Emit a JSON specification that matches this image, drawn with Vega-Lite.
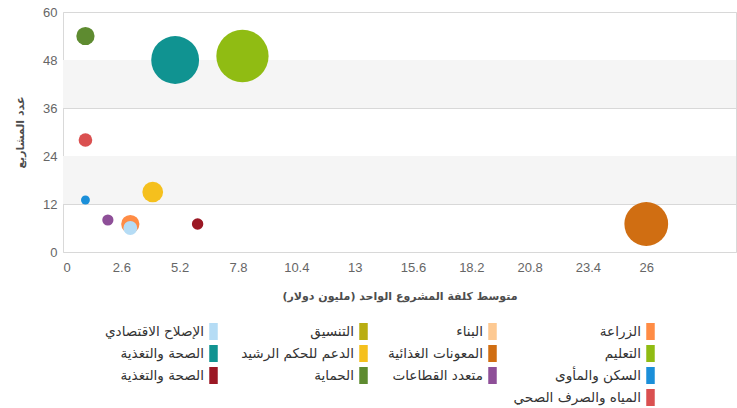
{
  "$schema": "https://vega.github.io/schema/vega-lite/v6.json",
  "width": 673,
  "height": 240,
  "autosize": {"type": "none"},
  "padding": {"left": 63, "top": 12, "right": 1, "bottom": 156},
  "background": "white",
  "config": {
    "view": {"stroke": "#d9d9d9"},
    "font": "DejaVu Sans",
    "legend": {"orient": "none", "direction": "vertical", "title": null, "symbolType": "M-0.5,-1H0.5V1H-0.5Z", "symbolSize": 289, "symbolStrokeWidth": 0, "symbolOpacity": 1, "labelAlign": "right", "labelOffset": -18, "labelFontSize": 13.6, "labelFont": "DejaVu Sans", "labelColor": "#333333", "rowPadding": 5, "labelLimit": 0}
  },
  "layer": [
    {
      "data": {"values": [{"lo": 12, "hi": 24}, {"lo": 36, "hi": 48}]},
      "mark": {"type": "rect", "color": "#f5f5f5"},
      "encoding": {
        "y": {
          "field": "lo", "type": "quantitative",
          "scale": {"domain": [0, 60], "nice": false},
          "axis": {"title": "عدد المشاريع", "values": [0, 12, 24, 36, 48, 60], "grid": true, "gridColor": "#d8d8d8", "domain": false, "ticks": false, "labelColor": "#666666", "labelFontSize": 13, "labelFont": "Liberation Sans", "labelPadding": 6, "titleFontSize": 11, "titleFontWeight": "bold", "titleColor": "#4d4d4d", "titlePadding": 17}
        },
        "y2": {"field": "hi"}
      }
    },
    {
      "data": {"values": [
        {"sector": "الصحة والتغذية|1", "avg_cost": 5, "projects": 48, "funding": 729},
        {"sector": "التعليم", "avg_cost": 8, "projects": 49, "funding": 870},
        {"sector": "المعونات الغذائية", "avg_cost": 26, "projects": 7, "funding": 610},
        {"sector": "الحماية", "avg_cost": 1, "projects": 54, "funding": 106},
        {"sector": "المياه والصرف الصحي", "avg_cost": 1, "projects": 28, "funding": 59},
        {"sector": "الدعم للحكم الرشيد", "avg_cost": 4, "projects": 15, "funding": 137},
        {"sector": "السكن والمأوى", "avg_cost": 1, "projects": 13, "funding": 25},
        {"sector": "متعدد القطاعات", "avg_cost": 2, "projects": 8, "funding": 40},
        {"sector": "الزراعة", "avg_cost": 3, "projects": 7, "funding": 106},
        {"sector": "الإصلاح الاقتصادي", "avg_cost": 3, "projects": 6, "funding": 61},
        {"sector": "الصحة والتغذية|2", "avg_cost": 6, "projects": 7, "funding": 42}
      ]},
      "encoding": {
        "x": {
          "field": "avg_cost", "type": "quantitative",
          "scale": {"domain": [0, 30], "nice": false},
          "axis": {"title": "متوسط كلفة المشروع الواحد (مليون دولار)", "values": [0, 2.6, 5.2, 7.8, 10.4, 13, 15.6, 18.2, 20.8, 23.4, 26], "format": ".1~f", "grid": false, "domain": false, "ticks": false, "labelPadding": 9, "labelFontSize": 13, "labelColor": "#666666", "labelFont": "Liberation Sans", "titleFontSize": 11, "titleFontWeight": "bold", "titleColor": "#4d4d4d", "titlePadding": 16}
        },
        "y": {
          "field": "projects", "type": "quantitative",
          "axis": {"title": "عدد المشاريع", "values": [0, 12, 24, 36, 48, 60], "grid": true, "gridColor": "#d8d8d8", "domain": false, "ticks": false, "labelColor": "#666666", "labelFontSize": 13, "labelFont": "Liberation Sans", "labelPadding": 6, "titleFontSize": 11, "titleFontWeight": "bold", "titleColor": "#4d4d4d", "titlePadding": 17}
        },
        "size": {"field": "funding", "type": "quantitative", "scale": {"type": "linear", "domain": [0, 900], "range": [0, 2827]}, "legend": null}
      },
      "layer": [
        {
          "transform": [{"filter": {"field": "sector", "oneOf": ["الزراعة", "التعليم", "السكن والمأوى", "المياه والصرف الصحي"]}}],
          "mark": {"type": "circle", "opacity": 1},
          "encoding": {
            "color": {
              "field": "sector", "type": "nominal",
              "scale": {"domain": ["الزراعة", "التعليم", "السكن والمأوى", "المياه والصرف الصحي"], "range": ["#ff8c45", "#90bc13", "#1b8fd9", "#da5050"]},
              "legend": {"legendX": 579, "legendY": 311}
            }
          }
        },
        {
          "transform": [{"filter": {"field": "sector", "oneOf": ["البناء", "المعونات الغذائية", "متعدد القطاعات"]}}],
          "mark": {"type": "circle", "opacity": 1},
          "encoding": {
            "color": {
              "field": "sector", "type": "nominal",
              "scale": {"domain": ["البناء", "المعونات الغذائية", "متعدد القطاعات"], "range": ["#fdc992", "#d06e12", "#8e4f98"]},
              "legend": {"legendX": 421, "legendY": 311}
            }
          }
        },
        {
          "transform": [{"filter": {"field": "sector", "oneOf": ["التنسيق", "الدعم للحكم الرشيد", "الحماية"]}}],
          "mark": {"type": "circle", "opacity": 1},
          "encoding": {
            "color": {
              "field": "sector", "type": "nominal",
              "scale": {"domain": ["التنسيق", "الدعم للحكم الرشيد", "الحماية"], "range": ["#b9ad11", "#f5c01d", "#5e8b30"]},
              "legend": {"legendX": 292, "legendY": 311}
            }
          }
        },
        {
          "transform": [{"filter": {"field": "sector", "oneOf": ["الإصلاح الاقتصادي", "الصحة والتغذية|1", "الصحة والتغذية|2"]}}],
          "mark": {"type": "circle", "opacity": 1},
          "encoding": {
            "color": {
              "field": "sector", "type": "nominal",
              "scale": {"domain": ["الإصلاح الاقتصادي", "الصحة والتغذية|1", "الصحة والتغذية|2"], "range": ["#b5dcf5", "#109391", "#9b1824"]},
              "legend": {"legendX": 142, "legendY": 311, "labelExpr": "split(datum.label, '|')[0]"}
            }
          }
        }
      ],
      "resolve": {"scale": {"color": "independent"}, "legend": {"color": "independent"}}
    }
  ]
}
